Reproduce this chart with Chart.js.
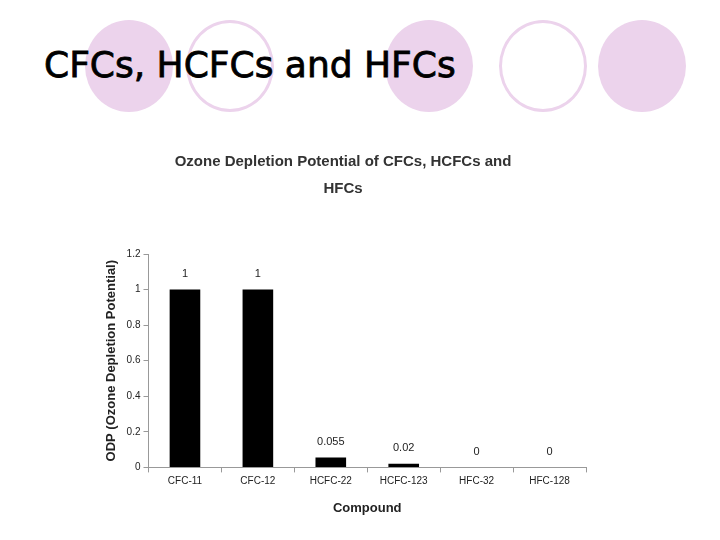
<!DOCTYPE html>
<html>
<head>
<meta charset="utf-8">
<script src="https://cdn.jsdelivr.net/npm/chart.js@4"></script>
<style>
  body { margin: 0; width: 720px; height: 540px; background: #fff; position: relative; overflow: hidden; font-family: "Liberation Sans", Arial, sans-serif; }
  .c { position: absolute; width: 88px; height: 92px; border-radius: 50%; top: 20px; box-sizing: border-box; }
  .fill { background: #ecd3ec; }
  .ring { border: 3px solid #ecd3ec; background: #fff; }
  h1 { position: absolute; left: 44px; top: 44px; margin: 0; font-family: "DejaVu Sans", sans-serif; font-weight: normal; font-size: 36px; color: #000; -webkit-text-stroke: 0.8px #000; }
  #wrap { position: absolute; left: 100px; top: 140px; width: 500px; height: 380px; }
</style>
</head>
<body>
<div class="c fill" style="left:85px"></div>
<div class="c ring" style="left:186px"></div>
<div class="c fill" style="left:385px"></div>
<div class="c ring" style="left:499px"></div>
<div class="c fill" style="left:598px"></div>
<h1>CFCs, HCFCs and HFCs</h1>
<div id="wrap"><canvas id="chart"></canvas></div>
<script>
const categories = ['CFC-11', 'CFC-12', 'HCFC-22', 'HCFC-123', 'HFC-32', 'HFC-128'];
const odpValues = [1, 1, 0.055, 0.02, 0, 0];
const valueLabels = ['1', '1', '0.055', '0.02', '0', '0'];

const labelPlugin = {
    id: 'valueLabels',
    afterDatasetsDraw(chart) {
        const ctx = chart.ctx;
        const meta = chart.getDatasetMeta(0);
        ctx.save();
        ctx.fillStyle = '#222';
        ctx.font = '11px "Liberation Sans", Arial, sans-serif';
        ctx.textAlign = 'center';
        ctx.textBaseline = 'bottom';
        meta.data.forEach((bar, i) => {
            ctx.fillText(valueLabels[i], bar.x, bar.y - 10);
        });
        ctx.restore();
    }
};

new Chart(document.getElementById('chart'), {
    type: 'bar',
    data: {
        labels: categories,
        datasets: [{
            data: odpValues,
            backgroundColor: '#000',
            barPercentage: 0.42,
            categoryPercentage: 1.0
        }]
    },
    options: {
        responsive: true,
        maintainAspectRatio: false,
        animation: false,
        layout: { padding: { top: 0, right: 14 } },
        plugins: {
            legend: { display: false },
            tooltip: { enabled: false },
            title: {
                display: true,
                text: ['Ozone Depletion Potential of CFCs, HCFCs and', 'HFCs'],
                color: '#333',
                font: { family: '"Liberation Sans", Arial, sans-serif', size: 15, weight: 'bold', lineHeight: 1.8 },
                padding: { top: 8, bottom: 52 }
            }
        },
        scales: {
            x: {
                grid: { display: true, drawOnChartArea: false, offset: true, color: '#999', tickLength: 5 },
                border: { color: '#999' },
                ticks: { color: '#222', font: { size: 10 } },
                title: { display: true, text: 'Compound', color: '#222', font: { size: 13, weight: 'bold' }, padding: { top: 10 } }
            },
            y: {
                min: 0, max: 1.2,
                grid: { display: true, drawOnChartArea: false, color: '#999', tickLength: 5 },
                border: { color: '#999' },
                ticks: { stepSize: 0.2, color: '#222', font: { size: 10 }, callback: v => Math.round(v * 10) / 10 },
                title: { display: true, text: 'ODP (Ozone Depletion Potential)', color: '#222', font: { size: 13, weight: 'bold' } }
            }
        }
    },
    plugins: [labelPlugin]
});
</script>
</body>
</html>
